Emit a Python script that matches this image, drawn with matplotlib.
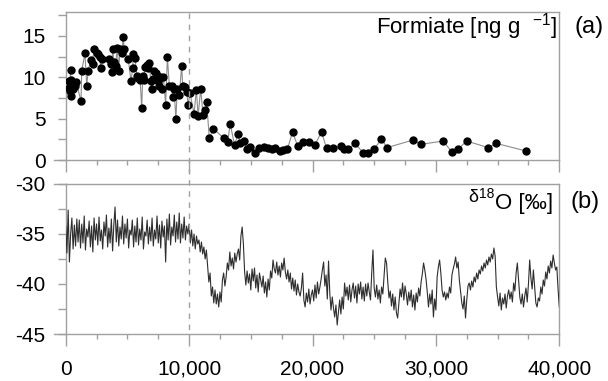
import numpy as np
import matplotlib
matplotlib.use("Agg")
import matplotlib.pyplot as plt
from matplotlib.lines import Line2D
from matplotlib.ticker import MultipleLocator, FixedLocator
from matplotlib.transforms import blended_transform_factory

plt.rcParams['font.family'] = ['Liberation Sans', 'DejaVu Sans']
plt.rcParams['mathtext.default'] = 'regular'
plt.rcParams['axes.unicode_minus'] = False

# --- donnees ---
# (a) formiate [ng/g] en fonction de l'age
formiate_age = [270, 300, 330, 390, 430, 460, 590, 720, 860, 1240, 1300, 1560, 1700, 1830,
                2020, 2180, 2280, 2500, 2640, 2780, 2830, 2910, 3530, 3640, 3740, 3800, 3910,
                4040, 4180, 4290, 4400, 4530, 4670, 4730, 5070, 5290, 5430, 5490, 5620, 5760,
                5890, 6030, 6160, 6240, 6350, 6430, 6570, 6700, 6790, 6890, 6980, 7110, 7190,
                7330, 7440, 7550, 7650, 7790, 7920, 8100, 8240, 8400, 8590, 8670, 8780, 8930,
                9040, 9200, 9400, 9480, 9670, 9800, 9930, 10070, 10400, 10590, 10730, 10940,
                11130, 11320, 11420, 11640, 11970, 12830, 13130, 13330, 13680, 13950, 14140,
                14410, 14680, 14950, 15350, 15700, 16030, 16430, 16700, 16970, 17360, 17630,
                17960, 18390, 18790, 19250, 19730, 20190, 20730, 21140, 21680, 22270, 22540,
                22890, 23430, 24110, 24510, 24970, 25590, 26050, 28110, 28830, 30590, 31270,
                31800, 32480, 34230, 34910, 37280]
formiate = [9.5, 8.7, 8.3, 10.9, 7.7, 9.7, 8.6, 8.9, 9.4, 7.1, 10.8, 12.9, 9.0, 10.8,
            12.1, 11.6, 13.4, 12.9, 12.8, 12.4, 11.1, 12.2, 12.2, 11.6, 10.7, 13.4, 11.8,
            11.4, 13.6, 10.8, 13.4, 12.9, 14.9, 13.4, 12.2, 9.5, 11.1, 12.8, 12.3, 10.2,
            9.9, 9.7, 6.3, 10.1, 9.7, 11.3, 11.5, 11.1, 11.7, 9.5, 8.6, 9.8, 10.8,
            10.5, 9.6, 8.9, 10.0, 8.6, 10.0, 6.7, 12.4, 9.0, 8.9, 7.6, 8.6, 5.0,
            8.6, 7.8, 11.4, 9.0, 8.8, 8.2, 6.7, 8.1, 5.6, 8.5, 5.3, 8.6,
            5.4, 6.0, 7.0, 2.6, 3.8, 2.6, 2.2, 4.4, 1.8, 3.1, 2.0,
            2.3, 1.3, 1.6, 0.9, 1.5, 1.6, 1.5, 1.3, 1.4, 1.1, 1.2,
            1.3, 3.4, 1.7, 2.2, 2.2, 1.8, 3.4, 1.4, 1.5, 1.7, 1.3,
            1.3, 2.0, 0.9, 0.9, 1.3, 2.5, 1.5, 2.4, 1.9, 2.3, 1.0,
            1.3, 2.3, 1.5, 2.0, 1.1]

# (b) delta 18O, un point tous les 100 ans de 0 a 40 000
d18o_age = np.arange(0, 40001, 100)
d18o = [
    -34.2, -36.9, -32.6, -37.8, -35.0, -33.4, -36.5, -34.1, -36.2, -33.5,
    -35.8, -33.6, -36.4, -34.0, -35.9, -33.2, -36.6, -34.5, -35.3, -33.7,
    -36.3, -34.2, -36.8, -33.4, -35.6, -34.0, -36.1, -33.3, -35.7, -34.6,
    -36.5, -33.8, -35.2, -33.1, -36.3, -34.4, -35.9, -33.5, -36.7, -34.1,
    -32.3, -35.8, -33.6, -36.2, -34.3, -35.5, -33.2, -36.0, -34.0, -35.4,
    -33.5, -36.4, -34.6, -35.1, -33.6, -36.3, -34.2, -35.8, -33.4, -36.1,
    -34.5, -35.6, -33.3, -36.5, -34.8, -35.2, -33.6, -36.0, -34.3, -35.7,
    -33.4, -36.2, -34.6, -35.5, -33.2, -35.9, -34.1, -36.4, -33.7, -35.3,
    -34.2, -37.8, -33.5, -35.6, -33.0, -36.1, -34.3, -35.2, -33.1, -35.8,
    -33.8, -35.5, -32.9, -35.9, -34.0, -35.4, -33.3, -35.6, -34.2, -35.0,
    -34.0, -35.9, -34.6, -36.2, -35.0, -36.5, -35.2, -36.0, -35.6, -36.8,
    -35.8, -37.0, -36.3, -37.5, -36.6, -38.2, -39.8, -38.9, -41.2, -40.3,
    -41.9, -40.6, -42.0, -41.0, -42.3, -40.8, -41.8, -39.6, -38.9, -40.2,
    -39.3, -37.9, -38.6, -36.8, -38.2, -37.4, -38.5, -36.9, -37.8, -37.0,
    -36.5, -37.6, -35.2, -34.3, -36.0, -38.8, -40.1, -38.7, -39.9, -39.0,
    -40.6, -38.5, -39.7, -38.4, -40.4, -39.1, -40.8, -38.9, -39.6, -40.3,
    -39.2, -40.9, -39.8, -41.3, -39.5, -40.6, -38.7, -39.4, -37.6, -38.5,
    -38.9, -37.8, -39.1, -38.2, -39.3, -37.9, -38.6, -37.4, -38.8, -39.5,
    -38.6, -39.8, -38.9, -40.5, -39.4, -40.7, -39.6, -41.1, -40.0, -40.8,
    -41.2, -40.4, -38.9, -41.6, -42.3, -40.9, -41.8, -40.5, -42.0, -41.1,
    -40.6, -41.7, -40.1, -41.4, -39.8, -41.0, -40.3, -39.5, -38.6, -37.8,
    -40.2, -39.1, -41.5, -37.7, -40.9, -42.6, -41.3, -42.4, -43.3, -42.1,
    -44.1, -42.8, -41.6, -43.0, -41.3, -42.5, -39.9, -41.2, -40.3, -41.6,
    -40.1, -41.8, -40.6, -39.9, -41.4, -40.2, -41.9, -40.0, -41.0, -39.8,
    -41.5, -40.3, -41.7, -40.0, -41.2, -39.9, -40.8, -41.6, -38.9, -36.6,
    -40.4, -41.3, -40.1, -41.5, -40.6, -41.9, -40.3, -41.0, -39.2, -37.4,
    -37.9, -39.8, -41.4, -40.7, -42.2, -41.0, -42.6, -41.3, -42.9, -43.4,
    -41.9, -40.5, -41.3, -39.9, -41.6, -40.2, -41.0, -42.1, -40.8, -41.7,
    -40.6, -42.3, -41.1, -42.6, -40.9, -41.8, -40.4, -41.2, -39.8, -39.0,
    -37.9, -38.6, -39.5, -40.8, -42.3, -41.0, -42.0, -40.6, -43.3, -41.5,
    -42.6, -39.3, -38.3, -37.6, -38.9, -40.6, -41.3, -40.8, -41.6, -40.9,
    -41.4, -40.3, -40.9, -39.1, -38.5, -38.0, -37.3, -38.4, -37.8, -39.6,
    -40.8, -41.9, -42.5, -41.2, -43.4, -41.6, -40.2, -39.9, -40.6, -39.7,
    -40.3, -39.3, -39.8, -38.9, -39.5, -38.6, -39.0, -38.2, -38.7, -37.9,
    -38.4, -37.6, -38.1, -37.3, -37.8, -37.0, -37.5, -36.4, -37.2, -40.3,
    -41.3, -42.2, -40.9, -42.6, -41.4, -42.0, -41.0, -42.4, -41.2, -40.6,
    -41.5, -40.8, -41.8, -39.9, -40.7, -38.9, -37.9, -39.6, -41.3, -42.0,
    -41.0, -42.3, -41.2, -40.4, -41.8, -40.0, -37.6, -39.4, -40.5, -38.6,
    -40.2, -41.9, -42.3, -41.4, -41.7, -40.3, -41.0, -39.6, -40.2, -38.8,
    -39.5, -38.2, -38.9, -37.7, -38.4, -37.1, -37.9, -38.6, -38.3, -40.5,
    -42.3]

x_ticks = [0, 10000, 20000, 30000, 40000]
x_tick_labels = ['0', '10,000', '20,000', '30,000', '40,000']
yticks_a = [0, 5, 10, 15]
yticks_b = [-45, -40, -35, -30]
limite_holocene = 10000

gris = '#a0a0a0'

fig = plt.figure(figsize=(6.08, 3.81), dpi=100)
W, H = 608.0, 381.0
x0, x1 = 65.7, 559.3
ax1 = fig.add_axes([x0 / W, 1 - 160 / H, (x1 - x0) / W, (160 - 12.3) / H])
ax2 = fig.add_axes([x0 / W, 1 - 334 / H, (x1 - x0) / W, 150 / H])

# (a) formiate
ax1.plot(formiate_age, formiate, color='#8c8c8c', lw=0.8, zorder=2)
ax1.plot(formiate_age, formiate, 'o', color='black', ms=5, zorder=3)
ax1.set_ylim(0, 17.86)
ax1.set_yticks(yticks_a)
ax1.yaxis.set_minor_locator(FixedLocator([2.5, 7.5, 12.5, 17.5]))

# (b) d18O
ax2.plot(d18o_age, d18o, color='#2e2e2e', lw=0.8, zorder=3)
ax2.set_ylim(-45, -30)
ax2.set_yticks(yticks_b)
ax2.yaxis.set_minor_locator(MultipleLocator(2.5))

for ax in (ax1, ax2):
    ax.set_xlim(0, 40000)
    ax.set_xticks(x_ticks)
    ax.xaxis.set_minor_locator(MultipleLocator(2500))
    for s in ax.spines.values():
        s.set_color(gris)
        s.set_linewidth(1.0)
    ax.tick_params(axis='x', which='major', length=8.5, width=1.0, color=gris, pad=10, labelsize=15)
    ax.tick_params(axis='x', which='minor', length=3.5, width=1.0, color=gris)
    ax.tick_params(axis='y', which='both', length=5.5, width=1.0, color=gris, pad=9, labelsize=15)

ax1.set_xticklabels([])
ax2.set_xticklabels(x_tick_labels)

# lignes horizontales prolongees vers la gauche
ax1.plot([-0.024, 0], [0, 0], transform=ax1.transAxes, color=gris, lw=1.0, clip_on=False)
ax2.plot([-0.024, 0], [1, 1], transform=ax2.transAxes, color=gris, lw=1.0, clip_on=False)
ax2.plot([-0.024, 0], [0, 0], transform=ax2.transAxes, color=gris, lw=1.0, clip_on=False)

# ligne pointillee a 10 000
trans = blended_transform_factory(ax1.transData, fig.transFigure)
fig.add_artist(Line2D([limite_holocene, limite_holocene], [1 - 13 / H, 1 - 334 / H],
                      transform=trans, color=gris, lw=1.0, ls=(0, (4, 4)), zorder=1))

# titres des panneaux
fig.text(557 / W, 1 - 33 / H, 'Formiate [ng g  $^{-1}$]', ha='right', va='baseline', fontsize=16)
fig.text(575 / W, 1 - 33 / H, '(a)', ha='left', va='baseline', fontsize=17)

t_o = fig.text(553 / W, 1 - 209 / H, 'O [‰]', ha='right', va='baseline', fontsize=16)
a18 = fig.add_artist(plt.Annotation('18', xy=(0, 0), xycoords=t_o, xytext=(-0.5, 15.5),
                                    textcoords='offset pixels', ha='right', va='baseline', fontsize=10))
fig.add_artist(plt.Annotation('δ', xy=(0, 0), xycoords=a18, xytext=(-0.5, -0.5),
                              textcoords='offset pixels', ha='right', va='baseline', fontsize=13))
fig.text(570 / W, 1 - 208 / H, '(b)', ha='left', va='baseline', fontsize=17)

fig.savefig('out.png', dpi=100)
